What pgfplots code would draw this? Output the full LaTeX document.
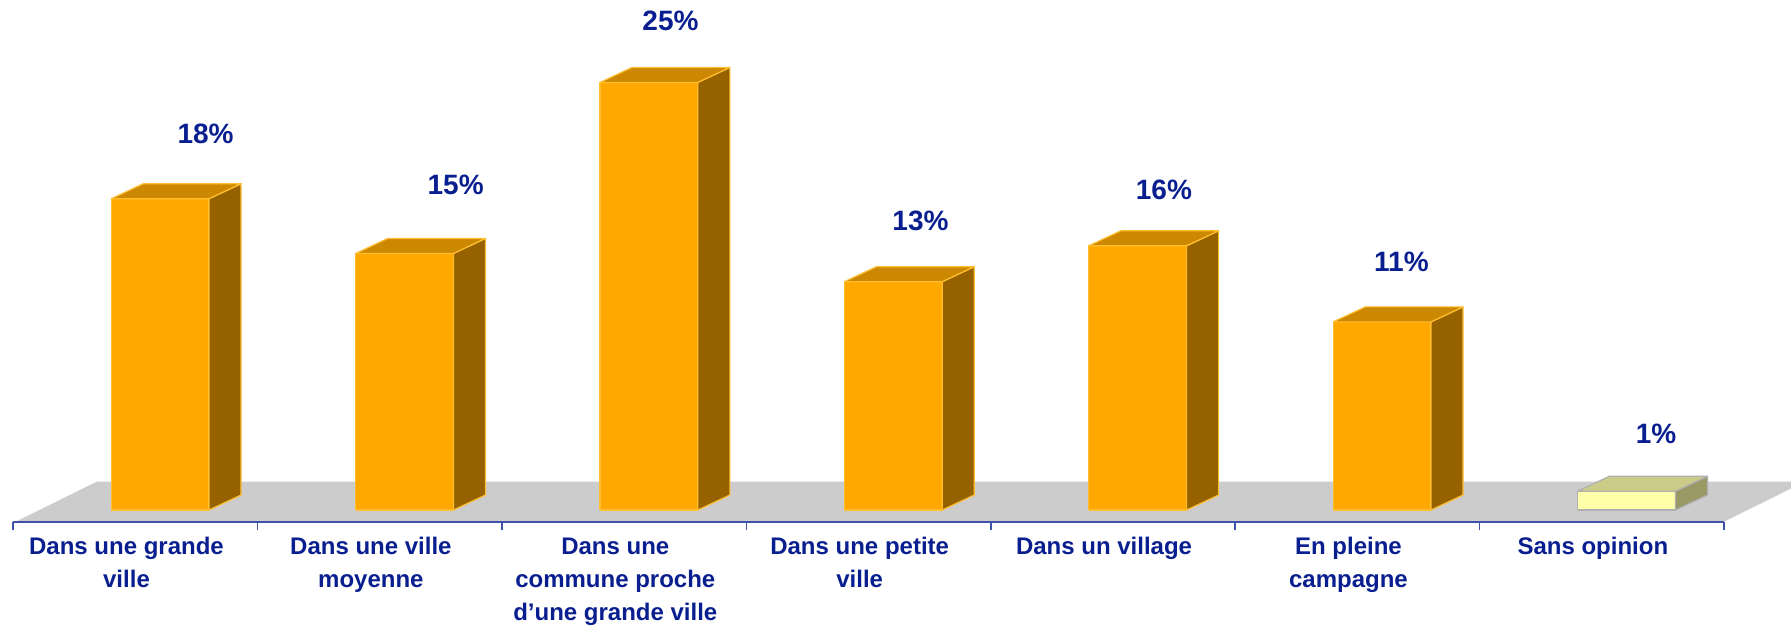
\documentclass[border=0pt]{standalone}
\usepackage{pgfplots}
\usepackage{pgfplotstable}
\pgfplotsset{compat=1.18}
\usepackage{fontspec}
\setmainfont{Liberation Sans}

\definecolor{orfrontc}{HTML}{FFA800}
\definecolor{ortopc}{HTML}{CC8800}
\definecolor{orsidec}{HTML}{966200}
\definecolor{oredgec}{HTML}{FFBE30}
\definecolor{yefrontc}{HTML}{FFFFAA}
\definecolor{yetopc}{HTML}{CCCC88}
\definecolor{yesidec}{HTML}{999966}
\definecolor{yeedgec}{HTML}{B0B0B0}
\definecolor{floorc}{HTML}{CCCCCC}
\definecolor{axisc}{HTML}{3F51A8}
\definecolor{textc}{HTML}{0A1F8F}

\pgfplotstableread{
x v s
0 18.2 or
1 15.0 or
2 25.0 or
3 13.35 or
4 15.45 or
5 11.0 or
6 1.1 ye
}\bardata

\pgfplotstableread{
lx ly lab
0.787 22.01 18
1.810 19.0 15
2.689 28.62 25
3.712 16.93 13
4.708 18.74 16
5.680 14.53 11
6.722 4.44 1
}\labdata

\pgfplotsset{
  orfront/.style={fill=orfrontc, draw=oredgec, line width=0.6pt, line join=round},
  orside/.style={fill=orsidec, draw=oredgec, line width=0.6pt, line join=round},
  ortop/.style={fill=ortopc, draw=oredgec, line width=0.6pt, line join=round},
  yefront/.style={fill=yefrontc, draw=yeedgec, line width=0.6pt, line join=round},
  yeside/.style={fill=yesidec, draw=yeedgec, line width=0.6pt, line join=round},
  yetop/.style={fill=yetopc, draw=yeedgec, line width=0.6pt, line join=round},
}

\newcommand\barfaces[1]{%
  \pgfplotstablegetelem{#1}{v}\of\bardata \edef\vv{\pgfplotsretval}%
  \pgfplotstablegetelem{#1}{s}\of\bardata \edef\ss{\pgfplotsretval}%
  \pgfmathsetmacro\xa{#1+0.401}%
  \pgfmathsetmacro\xb{#1+0.801}%
  \pgfmathsetmacro\xc{#1+0.801+0.131}%
  \pgfmathsetmacro\xd{#1+0.401+0.131}%
  \pgfmathsetmacro\yb{0.877}%
  \pgfmathsetmacro\yt{\vv+0.877}%
  \edef\tmp{%
    \noexpand\addplot[\ss front] coordinates {(\xa,0) (\xb,0) (\xb,\vv) (\xa,\vv) (\xa,0)};
    \noexpand\addplot[\ss side] coordinates {(\xb,0) (\xc,\yb) (\xc,\yt) (\xb,\vv) (\xb,0)};
    \noexpand\addplot[\ss top] coordinates {(\xa,\vv) (\xb,\vv) (\xc,\yt) (\xd,\yt) (\xa,\vv)};
  }\tmp
}

\begin{document}
\begin{tikzpicture}
\begin{axis}[
  scale only axis, width=895.5pt, height=260.85pt,
  xmin=-0.0544, xmax=7.274, ymin=-0.684, ymax=29.82,
  clip=false,
  axis line style={draw=none},
  ytick=\empty,
  xtick={0.5,1.5,...,6.5},
  xticklabels={{Dans une grande\\ville},{Dans une ville\\moyenne},{Dans une\\commune proche\\d’une grande ville},{Dans une petite\\ville},{Dans un village},{En pleine\\campagne},{Sans opinion}},
  minor xtick={0,1,...,7},
  xtick pos=left,
  xtick align=outside,
  major tick length=0pt,
  minor tick length=4.3pt,
  every minor tick/.append style={axisc, line width=0.8pt},
  xticklabel style={font=\bfseries\fontsize{12}{16.5}\selectfont, text=textc, align=center, inner sep=0pt, anchor=north, yshift=-7.7pt, xshift=-4.5pt},
]
\addplot[fill=floorc, draw=none] coordinates {(0.01,-0.684) (7,-0.684) (7.274,1.258) (7.274,1.655) (0.341,1.655) (0.01,-0.684)};
\addplot[axisc, line width=0.8pt] coordinates {(0,-0.684) (7,-0.684)};
\pgfplotsinvokeforeach{0,...,6}{\barfaces{#1}}
\addplot[draw=none, nodes near coords={\pgfplotspointmeta\%}, point meta=explicit symbolic,
  every node near coord/.append style={anchor=center, font=\bfseries\fontsize{14}{16}\selectfont, text=textc, inner sep=0pt}]
  table[x=lx, y=ly, meta=lab] {\labdata};
\end{axis}
\end{tikzpicture}
\end{document}
